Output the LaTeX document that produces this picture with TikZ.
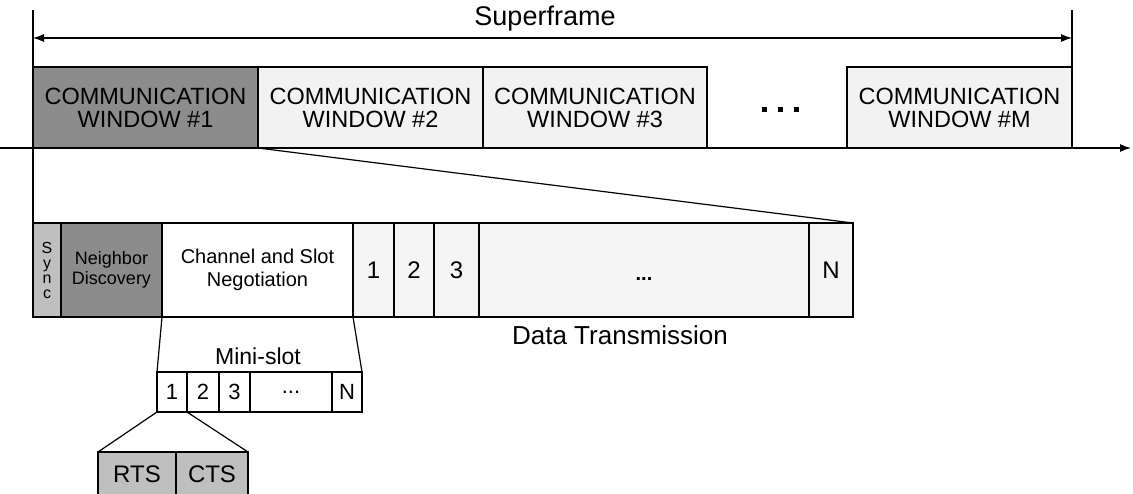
\documentclass[tikz,border=0pt]{standalone}
\usepackage{fontspec}
\setmainfont{Liberation Sans}
\usetikzlibrary{arrows.meta}
\begin{document}
\begin{tikzpicture}[x=1pt,y=-1pt,
  box/.style={draw=black,line width=1.2pt,rectangle,inner sep=0pt,outer sep=0pt,align=center},
  win/.style={box,minimum height=81pt,font=\fontsize{23.5}{23}\selectfont},
  det/.style={box,minimum height=94pt},
  mini/.style={box,minimum height=40pt,font=\fontsize{22}{23}\selectfont},
  rc/.style={box,minimum height=45pt,fill=black!25,font=\fontsize{24}{24}\selectfont},
  ln/.style={line width=1.2pt},
  arr/.style={line width=1.2pt,-{Latex[length=11pt,width=8pt]}},
  darr/.style={line width=1.2pt,{Latex[length=11pt,width=8pt]}-{Latex[length=11pt,width=8pt]}},
  lbl/.style={inner sep=0pt,align=center}
]
\useasboundingbox (0,0) rectangle (1133,493);
% windows
\node[win,fill=black!45,minimum width=225pt] (w1) at (145.5,107.5) {COMMUNICATION\\WINDOW \#1};
\node[win,fill=black!5,minimum width=225pt] (w2) at (370.5,107.5) {COMMUNICATION\\WINDOW \#2};
\node[win,fill=black!5,minimum width=224pt] (w3) at (595,107.5) {COMMUNICATION\\WINDOW \#3};
\node[win,fill=black!5,minimum width=225pt] (wM) at (959.5,107.5) {COMMUNICATION\\WINDOW \#M};
\node[lbl] (wdots) at (780,109) {\rule{5pt}{5pt}\hspace{11pt}\rule{5pt}{5pt}\hspace{11pt}\rule{5pt}{5pt}};
% axis
\coordinate (ax0) at (0,148);
\coordinate (ax1) at (1131,148);
\draw[arr] (ax0) -- (ax1);
% superframe
\coordinate (tl) at (33,10);
\coordinate (tr) at (1072,10);
\coordinate (sfl) at (33,38);
\coordinate (sfr) at (1072,38);
\draw[darr] (sfl) -- (sfr);
\node[lbl,font=\fontsize{27}{28}\selectfont] (sf) at (545,19) {Superframe};
% detail row
\node[det,fill=black!25,minimum width=28pt,font=\fontsize{16}{15}\selectfont] (sync) at (47,270) {S\\y\\n\\c};
\node[det,fill=black!45,minimum width=101pt,font=\fontsize{18}{20}\selectfont] (nd) at (111.5,270) {Neighbor\\Discovery};
\node[det,fill=white,minimum width=191pt,font=\fontsize{20}{23}\selectfont] (cs) at (257.5,270) {Channel and Slot\\Negotiation};
\node[det,fill=black!4,minimum width=41pt,font=\fontsize{24}{24}\selectfont] (s1) at (373.5,270) {1};
\node[det,fill=black!4,minimum width=40pt,font=\fontsize{24}{24}\selectfont] (s2) at (414,270) {2};
\node[det,fill=black!4,minimum width=45pt,font=\fontsize{24}{24}\selectfont] (s3) at (456.5,270) {3};
\node[det,fill=black!4,minimum width=330pt,font=\fontsize{20}{24}\selectfont] (sd) at (644,270) {\raisebox{-10pt}[0pt][0pt]{\textbf{...}}};
\node[det,fill=black!4,minimum width=44pt,font=\fontsize{24}{24}\selectfont] (sN) at (831,270) {N};
\node[lbl,font=\fontsize{26}{27}\selectfont] (dt) at (620,335) {Data Transmission};
% verticals and zoom lines
\draw[ln] (tl) -- (sync.north west);
\draw[ln] (tr) -- (wM.south east);
\draw[ln] (w1.south east) -- (sN.north east);
% mini-slots
\node[mini,fill=white,minimum width=30pt] (m1) at (172,392) {1};
\node[mini,fill=white,minimum width=32pt] (m2) at (203,392) {2};
\node[mini,fill=white,minimum width=31pt] (m3) at (234.5,392) {3};
\node[mini,fill=white,minimum width=82pt] (md) at (291,392) {...};
\node[mini,fill=white,minimum width=30pt] (mN) at (347,392) {N};
\node[lbl,font=\fontsize{23}{24}\selectfont] (ms) at (258,356) {Mini-slot};
\draw[ln] (cs.south west) -- (m1.north west);
\draw[ln] (cs.south east) -- (mN.north east);
% RTS / CTS
\node[rc,minimum width=78pt] (rts) at (137,474.5) {RTS};
\node[rc,minimum width=72pt] (cts) at (212,474.5) {CTS};
\draw[ln] (m1.south west) -- (rts.north west);
\draw[ln] (m1.south east) -- (cts.north east);
\end{tikzpicture}
\end{document}
